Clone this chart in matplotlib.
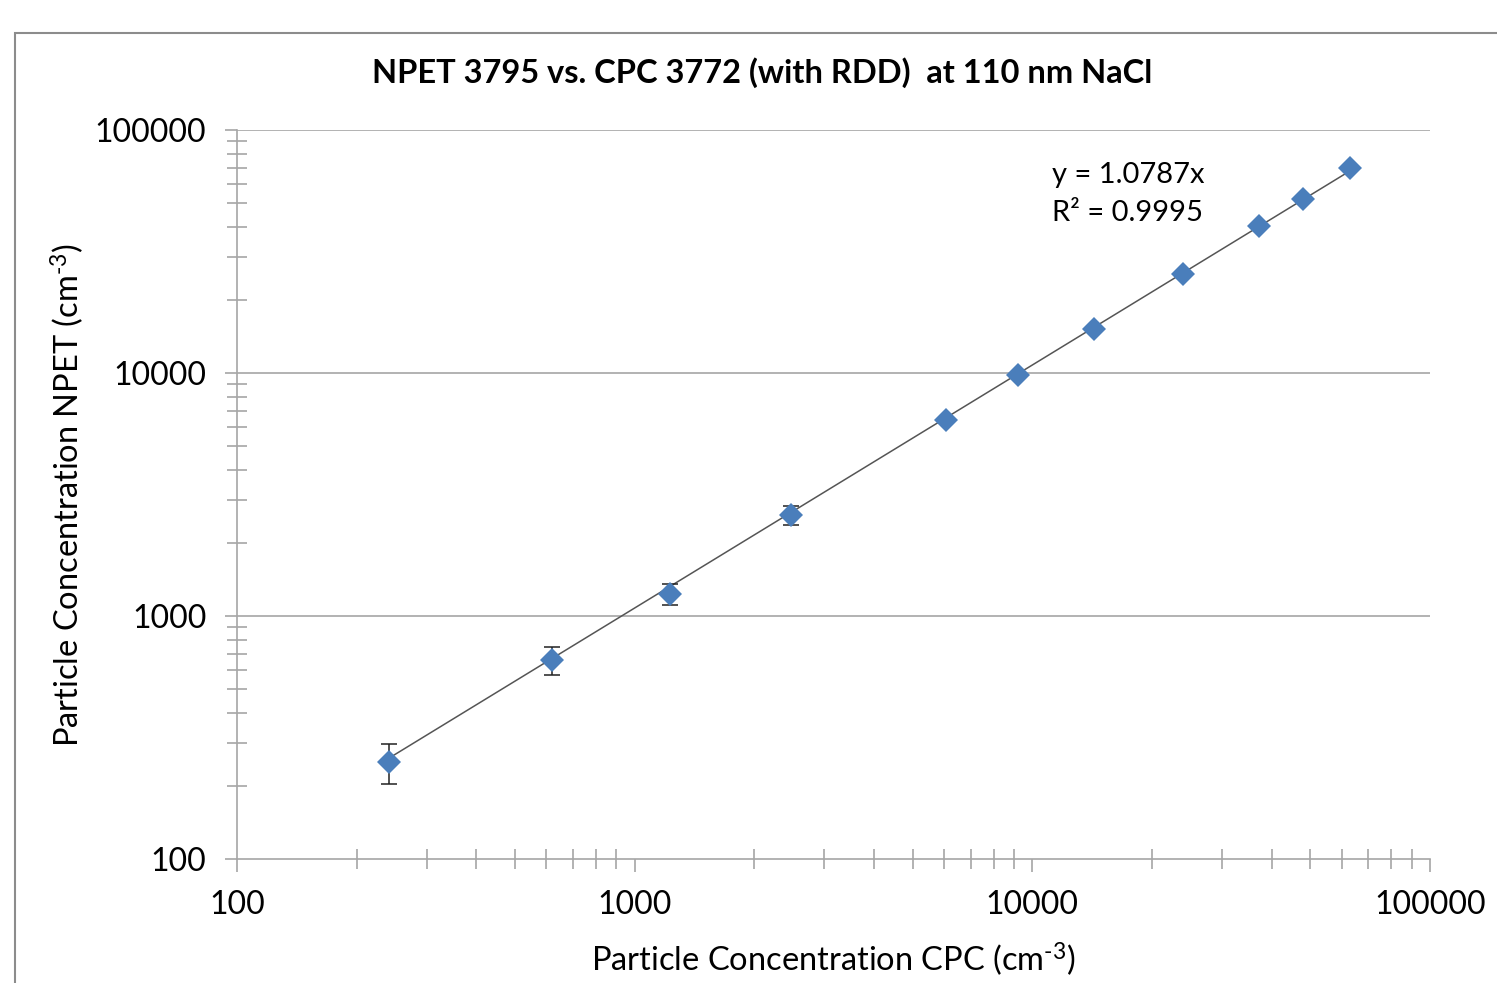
import numpy as np
import matplotlib.pyplot as plt
from matplotlib.ticker import LogLocator, FixedLocator, NullFormatter
from matplotlib.patches import Rectangle

plt.rcParams['font.family'] = ['Lato', 'DejaVu Sans']
plt.rcParams['mathtext.fontset'] = 'custom'
plt.rcParams['mathtext.rm'] = 'Lato'
plt.rcParams['mathtext.it'] = 'Lato:italic'
plt.rcParams['mathtext.bf'] = 'Lato:bold'

# data
cpc = [241, 620, 1227, 2473, 6066, 9204, 14280, 23930, 37130, 47900, 62900]
npet = [251, 659, 1232, 2604, 6409, 9817, 15170, 25550, 40270, 52000, 69800]
npet_err = [47, 87, 118, 240, 0, 0, 0, 0, 0, 0, 0]
slope = 1.0787
r2 = 0.9995

fig = plt.figure(figsize=(14.97, 9.83), dpi=100)
ax = fig.add_axes([237/1497, 1-859/983, (1430-237)/1497, (859-130)/983])

# outer chart frame (cropped at right/bottom)
fig.patches.append(Rectangle((15/1497, -0.1), 1.2, 1-33/983+0.1, transform=fig.transFigure,
                             fill=False, edgecolor='#8c8c8c', lw=1.5))

ax.set_xscale('log')
ax.set_yscale('log')
ax.set_xlim(100, 100000)
ax.set_ylim(100, 100000)

for v in [1000, 10000, 100000]:
    ax.axhline(v, color='#a6a6a6', lw=1.2, zorder=0)

xfit = np.array([cpc[0], cpc[-1]])
ax.plot(xfit, slope*xfit, color='#555555', lw=1.1, zorder=2)

ax.errorbar(cpc, npet, yerr=npet_err, fmt='none', ecolor='#222222', elinewidth=1.1,
            capsize=6, capthick=1.1, zorder=3)
ax.plot(cpc, npet, 'D', color='#4a7ebb', markersize=12, markeredgewidth=0, zorder=4)

for s in ['top', 'right']:
    ax.spines[s].set_visible(False)
for s in ['left', 'bottom']:
    ax.spines[s].set_color('#a6a6a6')
    ax.spines[s].set_linewidth(1.2)

ax.xaxis.set_major_locator(FixedLocator([100, 1000, 10000, 100000]))
ax.yaxis.set_major_locator(FixedLocator([100, 1000, 10000, 100000]))
ax.xaxis.set_minor_locator(LogLocator(base=10, subs=np.arange(2, 10)))
ax.yaxis.set_minor_locator(LogLocator(base=10, subs=np.arange(2, 10)))
ax.xaxis.set_minor_formatter(NullFormatter())
ax.yaxis.set_minor_formatter(NullFormatter())
ax.set_xticklabels(['100', '1000', '10000', '100000'])
ax.set_yticklabels(['100', '1000', '10000', '100000'])
ax.tick_params(which='major', length=9, width=1.2, color='#a6a6a6', labelsize=23, pad=13)
ax.tick_params(which='minor', direction='inout', length=14, width=1.2, color='#a6a6a6')

ax.set_xlabel(r'Particle Concentration CPC (cm$^{\text{-3}}$)', fontsize=23.5, labelpad=15)
ax.set_ylabel(r'Particle Concentration NPET (cm$^{\text{-3}}$)', fontsize=23.5, labelpad=6)
fig.text(762/1497, 1-73/983, 'NPET 3795 vs. CPC 3772 (with RDD)  at 110 nm NaCl',
         fontsize=23.5, fontweight='bold', ha='center', va='center')

ax.text(1052/1497, 1-175/983, f'y = {slope}x', transform=fig.transFigure,
        fontsize=21, va='center')
ax.text(1052/1497, 1-213/983, f'R² = {r2}', transform=fig.transFigure,
        fontsize=21, va='center')

fig.savefig('out.png', dpi=100)
